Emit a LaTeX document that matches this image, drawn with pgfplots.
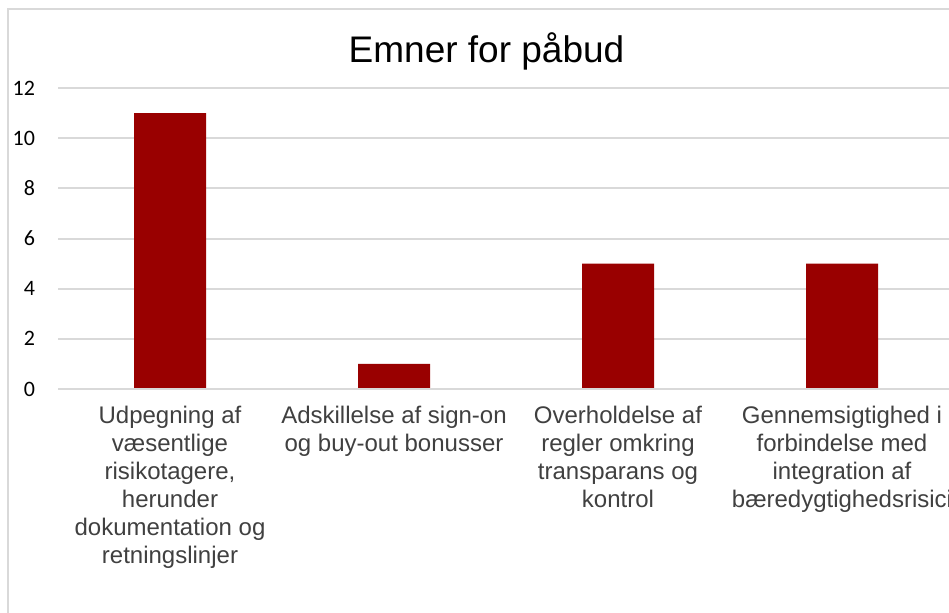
\documentclass[border=0pt]{standalone}
\usepackage{fontspec}
\setmainfont{Liberation Sans}
\newfontfamily\carlito{Carlito}
\usepackage{pgfplots}
\pgfplotsset{compat=1.18}
\definecolor{barred}{HTML}{990000}
\definecolor{gridgray}{HTML}{D9D9D9}
\definecolor{labelgray}{HTML}{404040}
\begin{document}
\begin{tikzpicture}
\useasboundingbox (0,0) rectangle (474.5pt,306pt);
\clip (0,0) rectangle (474.5pt,306pt);
\fill[white] (0,0) rectangle (474.5pt,306pt);
\draw[gridgray, line width=1pt] (4pt,-10pt) rectangle (490pt,301.5pt);
\begin{axis}[
  at={(29pt,111.5pt)}, anchor=south west,
  scale only axis, width=448pt, height=150.5pt,
  xmin=-0.5, xmax=3.5, ymin=0, ymax=12,
  ytick={0,2,4,6,8,10,12},
  xtick=data,
  xticklabels={{Udpegning af\\væsentlige\\risikotagere,\\herunder\\dokumentation og\\retningslinjer},
    {Adskillelse af sign-on\\og buy-out bonusser},
    {Overholdelse af\\regler omkring\\transparans og\\kontrol},
    {Gennemsigtighed i\\forbindelse med\\integration af\\bæredygtighedsrisici}},
  axis line style={draw=none},
  axis x line*=bottom,
  ymajorgrids, grid style={gridgray, line width=1pt},
  major tick length=0pt,
  /pgf/number format/assume math mode=true,
  yticklabel style={font=\carlito\fontsize{11}{13}\selectfont, text=black, xshift=-8pt},
  xticklabel style={font=\fontsize{12}{14}\selectfont, text=labelgray, align=center, yshift=-5pt},
  ybar, bar width=36pt,
  clip=false,
]
\addplot[fill=barred, draw=none] coordinates {(0,11) (1,1) (2,5) (3,5)};
\draw[gridgray, line width=1pt] (rel axis cs:0,0) -- (rel axis cs:1,0);
\end{axis}
\node[anchor=base, font=\fontsize{18.5}{22}\selectfont, text=black] at (243.25pt,274.5pt) {Emner for påbud};
\end{tikzpicture}
\end{document}
